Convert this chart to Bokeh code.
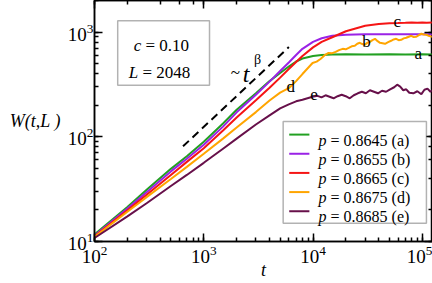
from bokeh.plotting import figure
from bokeh.models import LogAxis, LogTicker, Range1d, Label, BoxAnnotation, CustomJSTickFormatter
from bokeh.embed import file_html
from bokeh.resources import INLINE

# ---------------- data ----------------
t_a = [100, 200, 300, 500, 700, 1000, 1500, 2000, 3000, 4000, 5000, 6000, 7000, 8000,
       10000, 12000, 15000, 20000, 30000, 50000, 70000, 100000, 124000]
W_a = [11.7, 21.3, 31.2, 49.4, 65.1, 89.8, 134, 181, 260, 340, 406, 468, 523, 559,
       591, 604, 611, 612, 611, 612, 611, 612, 611]

t_b = [100, 200, 300, 500, 700, 1000, 1500, 2000, 3000, 4000, 5000, 6000, 7000, 8000,
       10000, 12000, 15000, 20000, 30000, 50000, 70000, 100000, 124000]
W_b = [11.4, 20.6, 29.6, 46.7, 61.6, 84.0, 125, 171, 252, 336, 424, 512, 604, 691,
       806, 872, 921, 942, 952, 952, 953, 952, 952]

t_c = [100, 200, 300, 500, 700, 1000, 1500, 2000, 3000, 4000, 5000, 6000, 7000, 8000,
       10000, 12000, 15000, 20000, 30000, 40000, 50000, 60000, 70000, 80000, 90000,
       100000, 110000, 124000]
W_c = [11.2, 19.9, 28.0, 43.2, 57.6, 77.7, 115, 153, 223, 294, 367, 443, 518, 591,
       714, 806, 891, 1018, 1150, 1195, 1216, 1222, 1229, 1236, 1225, 1232, 1229, 1230]

t_d = [100, 200, 300, 500, 700, 1000, 1500, 2000, 3000, 4000, 5000, 6000, 7000, 8000,
       9900, 10800, 11700, 12700, 13880, 15000, 16100, 17300, 18680, 19900, 21230, 22600,
       24120, 25400, 26820, 28300, 29830, 31500, 33170, 35000, 36900, 39000, 41030, 43300,
       45630, 48700, 51840, 54700, 57650, 60800, 64120, 67600, 71310, 75200, 79300, 83600,
       88190, 93000, 98100, 103400, 109100, 116000, 124000]
W_d = [11.05, 19.2, 26.5, 39.5, 51.6, 68.8, 96, 122.5, 172, 222, 264, 291, 340, 397,
       506, 522, 553, 598, 632, 628, 646, 672, 691, 684, 706, 731, 738, 772, 789, 768,
       755, 792, 806, 838, 862, 818, 789, 781, 772, 801, 825, 850, 862, 835, 843, 870,
       881, 902, 921, 894, 901, 935, 963, 948, 942, 915, 901]

t_e = [100, 200, 300, 500, 700, 1000, 1500, 2000, 3000, 4000, 5000, 6000, 7000, 8000,
       9900, 11000, 11950, 13020, 14170, 15430, 16800, 18290, 19920, 21680, 23610, 25700,
       27990, 30470, 33170, 36120, 39320, 42810, 46620, 50760, 55260, 58900, 62790, 66930,
       71310, 76020, 82770, 90120, 98100, 104600, 111500, 118800, 124000]
W_e = [10.8, 17.4, 23.2, 33.9, 43.2, 56.4, 76.9, 96.0, 130.9, 159.8, 186.6, 204, 218, 225.4,
       241, 246, 238, 249, 241, 233, 244, 252, 244, 233, 249, 260,
       269, 260, 278, 269, 260, 275, 269, 284, 297, 314, 301, 278,
       284, 263, 260, 272, 255, 281, 288, 269, 278]

p_values = ["0.8645", "0.8655", "0.8665", "0.8675", "0.8685"]
letters = ["a", "b", "c", "d", "e"]
colors = ["#22a022", "#9a22e6", "#f51515", "#ffa500", "#67104a"]

guide_t = [646, 6010]          # dashed ~ t^beta guide
guide_W = [81, 718]

box_texts = [("c", "= 0.10"), ("L", "= 2048")]
x_title = "t"
y_title = "W(t,L )"

# ---------------- layout helper: reference pixel -> data ----------------
def ref(x, y):
    return 10 ** (2 + (x - 94) / 108.3), 10 ** (1 + (241 - y) / 103.85)

FONT = "Liberation Serif"

p = figure(width=432, height=283, x_axis_type="log", y_axis_type="log",
           x_range=Range1d(100, 1.24e5), y_range=Range1d(10, 2000),
           output_backend="svg", toolbar_location=None,
           min_border_left=94, min_border_right=0, min_border_top=0, min_border_bottom=42)
p.xgrid.visible = False
p.ygrid.visible = False
p.outline_line_color = "black"
p.outline_line_width = 1.5
p.background_fill_color = "white"
p.border_fill_color = "white"

bottom_ax = p.below[0]
left_ax = p.left[0]
top_ax = LogAxis(ticker=LogTicker())
right_ax = LogAxis(ticker=LogTicker())
p.add_layout(top_ax, "above")
p.add_layout(right_ax, "right")

for ax in [bottom_ax, left_ax, top_ax, right_ax]:
    ax.axis_line_width = 1.5
    ax.axis_line_color = "black"
    ax.major_tick_line_width = 1.5
    ax.minor_tick_line_width = 1.5
    ax.major_tick_line_color = "black"
    ax.minor_tick_line_color = "black"
    ax.major_tick_in = 8
    ax.major_tick_out = 0
    ax.minor_tick_in = 4
    ax.minor_tick_out = 0
    ax.major_label_text_font = FONT
    ax.major_label_text_font_size = "19px"
    ax.major_label_text_color = "black"
    ax.axis_label_text_color = "black"

for ax in [top_ax, right_ax]:
    ax.formatter = CustomJSTickFormatter(code="return ''")
    ax.major_label_text_font_size = "1px"
    ax.major_label_text_alpha = 0
    ax.major_label_standoff = 0

bottom_ax.axis_label = x_title
bottom_ax.axis_label_text_font = FONT
bottom_ax.axis_label_text_font_style = "italic"
bottom_ax.axis_label_text_font_size = "18px"
bottom_ax.axis_label_standoff = -6
bottom_ax.major_label_standoff = 4

left_ax.axis_label = y_title
left_ax.axis_label_orientation = "horizontal"
left_ax.axis_label_text_font = FONT
left_ax.axis_label_text_font_style = "italic"
left_ax.axis_label_text_font_size = "18px"
left_ax.axis_label_standoff = 4
left_ax.major_label_standoff = 1

# curves
for t, W, col in zip([t_a, t_b, t_c, t_d, t_e], [W_a, W_b, W_c, W_d, W_e], colors):
    p.line(t, W, line_color=col, line_width=2)

p.line(guide_t, guide_W, line_color="black", line_width=2, line_dash="8 5")

def add_text(xp, yp, text, size, style="normal", align="left"):
    x, y = ref(xp, yp)
    p.add_layout(Label(x=x, y=y, text=text, text_font=FONT, text_font_style=style,
                       text_font_size=size, text_color="black", text_align=align,
                       text_baseline="alphabetic"))

# ~ t^beta
add_text(233.5, 73, "~", "17px", align="center")
add_text(241, 75, "t", "24px", style="italic")
add_text(252, 61, "β", "14px")

# curve letters
letter_pos = {"a": (415, 55), "b": (363.5, 43), "c": (394, 23), "d": (288.5, 87), "e": (311.5, 95)}
for k in letters:
    add_text(letter_pos[k][0], letter_pos[k][1], k, "17px", align="center")

# parameter box
l, t_ = ref(117, 22)
r, b = ref(208, 86)
p.add_layout(BoxAnnotation(left=l, right=r, top=t_, bottom=b, fill_color="white", fill_alpha=1,
                           line_color="black", line_width=1.5))
for (sym, rest), (xs, xr, yb) in zip(box_texts, [(133, 144.5, 47), (128, 141.5, 73)]):
    add_text(xs, yb, sym, "17px", style="italic")
    add_text(xr, yb, rest, "17px")

# legend
l, t_ = ref(281, 122)
r, b = ref(423, 223)
p.add_layout(BoxAnnotation(left=l, right=r, top=t_, bottom=b, fill_color="white", fill_alpha=1,
                           line_color="black", line_width=1.5))
rows = [135, 154, 173, 192, 211]
x0s, x1s, ys = [], [], []
for i, (pv, lt) in enumerate(zip(p_values, letters)):
    ry = rows[i]
    xa0, yy = ref(287, ry)
    xa1, _ = ref(307, ry)
    x0s.append(xa0); x1s.append(xa1); ys.append(yy)
    add_text(316, ry + 5.5, "p", "16px", style="italic")
    add_text(328, ry + 5.5, "= %s (%s)" % (pv, lt), "16px")
p.segment(x0=x0s, y0=ys, x1=x1s, y1=ys, line_color=colors, line_width=2, level="overlay")

open("out.html", "w").write(file_html(p, INLINE))
